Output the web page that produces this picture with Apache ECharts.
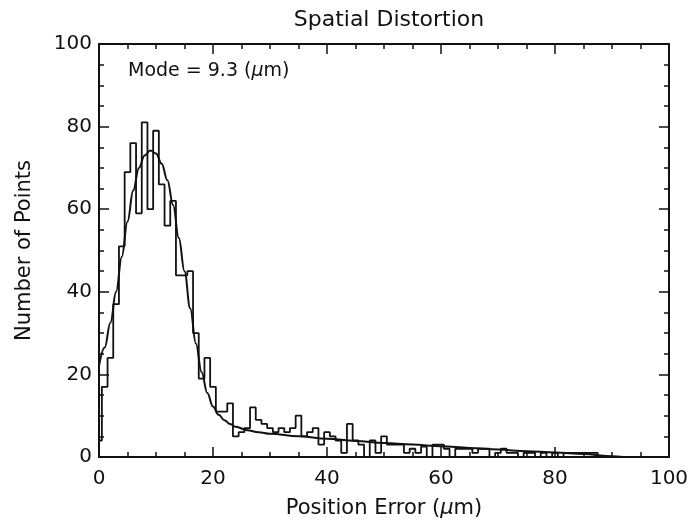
<!DOCTYPE html>
<html><head><meta charset="utf-8">
<script src="https://cdn.jsdelivr.net/npm/echarts@6/dist/echarts.min.js"></script>
<style>html,body{margin:0;padding:0;background:#fff}#c{width:693px;height:525px}</style>
</head><body><div id="c"></div>
<script>
// Histogram bin centres (µm) and counts
const binCenters = [0,1,2,3,4,5,6,7,8,9,10,11,12,13,14,15,16,17,18,19,20,21,22,23,24,25,26,27,28,29,30,31,32,33,34,35,36,37,38,39,40,41,42,43,44,45,46,47,48,49,50,51,52,53,54,55,56,57,58,59,60,61,62,63,64,65,66,67,68,69,70,71,72,73,74,75,76,77,78,79,80,81,82,83,84,85,86,87,88,89];
const binCounts = [4,17,24,37,51,69,76,59,81,60,79,66,56,62,44,44,45,30,19,24,17,11,11,13,5,6,7,12,9,8,7,6,7,6,7,10,5,6,7,3,6,5,4,1,8,4,3,0,4,1,5,3,3,3,1,2,1,2.5,0,3,3,2,0,2,2,2,1,2,2,0,1,2,1,1,0,1,1,0,1,0,1,0,1,1,1,1,1,1,0,0];
// Fitted curve
const fitX = [0,1,2,3,4,5,6,7,8,9,10,11,12,13,14,15,16,17,18,19,20,21,22,23,24,26,28,30,35,40,45,50,55,60,65,70,75,80,85,90,92];
const fitY = [22,26.5,32.5,40,48.5,57,64.5,70,73,74.2,73.5,71,67,61,53,45,36,27.5,20.5,15.5,12.2,10.2,8.9,8,7.3,6.5,6,5.6,5,4.4,3.9,3.4,3,2.6,2.2,1.8,1.4,1.1,0.7,0.2,0];
const xTicks = [0,20,40,60,80,100];
const yTicks = [0,20,40,60,80,100];

const FONT = 'DejaVu Sans';
const INK = '#111';
const histData = binCenters.map((x,i)=>[x,binCounts[i]]);
const fitData = fitX.map((x,i)=>[x,fitY[i]]);

function axisBase(extra){
  return Object.assign({
    type:'value', min:xTicks[0], max:xTicks[xTicks.length-1], interval:20,
    axisLine:{show:true, onZero:false, lineStyle:{color:INK,width:2}},
    axisTick:{show:true, inside:true, length:10, lineStyle:{color:INK,width:1.5}},
    minorTick:{show:true, splitNumber:4, length:5, lineStyle:{color:INK,width:1.5}},
    splitLine:{show:false}, minorSplitLine:{show:false}
  }, extra);
}
const chart = echarts.init(document.getElementById('c'), null, {renderer:'canvas'});
chart.setOption({
  backgroundColor:'#fff',
  animation:false,
  title:{text:'Spatial Distortion', left:384, top:4, textAlign:'center',
    textStyle:{fontFamily:FONT, fontSize:22, fontWeight:'normal', color:INK}},
  grid:{left:99, right:24, top:44, bottom:68},
  xAxis:[
    axisBase({position:'bottom',
      axisLabel:{show:true, margin:12, fontFamily:FONT, fontSize:20, color:INK},
      name:'Position Error ({i|µ}m)', nameLocation:'middle', nameGap:41,
      nameTextStyle:{fontFamily:FONT, fontSize:21, color:INK,
        rich:{i:{fontFamily:FONT, fontSize:21, fontStyle:'italic', color:INK}}}}),
    axisBase({position:'top', axisLabel:{show:false}})
  ],
  yAxis:[
    axisBase({position:'left', min:yTicks[0], max:yTicks[yTicks.length-1],
      axisLabel:{show:true, margin:7, fontFamily:FONT, fontSize:20, color:INK},
      name:'Number of Points', nameLocation:'middle', nameGap:64, nameRotate:90,
      nameTextStyle:{fontFamily:FONT, fontSize:21, color:INK}}),
    axisBase({position:'right', min:yTicks[0], max:yTicks[yTicks.length-1], axisLabel:{show:false}})
  ],
  graphic:[{type:'text', left:128, top:62,
    style:{text:'Mode = 9.3 ({i|µ}m)', fontFamily:FONT, fontSize:19, fill:INK,
      rich:{i:{fontFamily:FONT, fontSize:19, fontStyle:'italic', fill:INK, color:INK}}}}],
  series:[
    {type:'line', name:'histogram', data:histData, step:'middle', symbol:'none',
      lineStyle:{color:INK, width:1.8}, xAxisIndex:0, yAxisIndex:0, z:3},
    {type:'line', name:'fit', data:fitData, smooth:0.4, smoothMonotone:'x', symbol:'none',
      lineStyle:{color:INK, width:2}, xAxisIndex:0, yAxisIndex:0, z:4}
  ]
});
</script></body></html>
